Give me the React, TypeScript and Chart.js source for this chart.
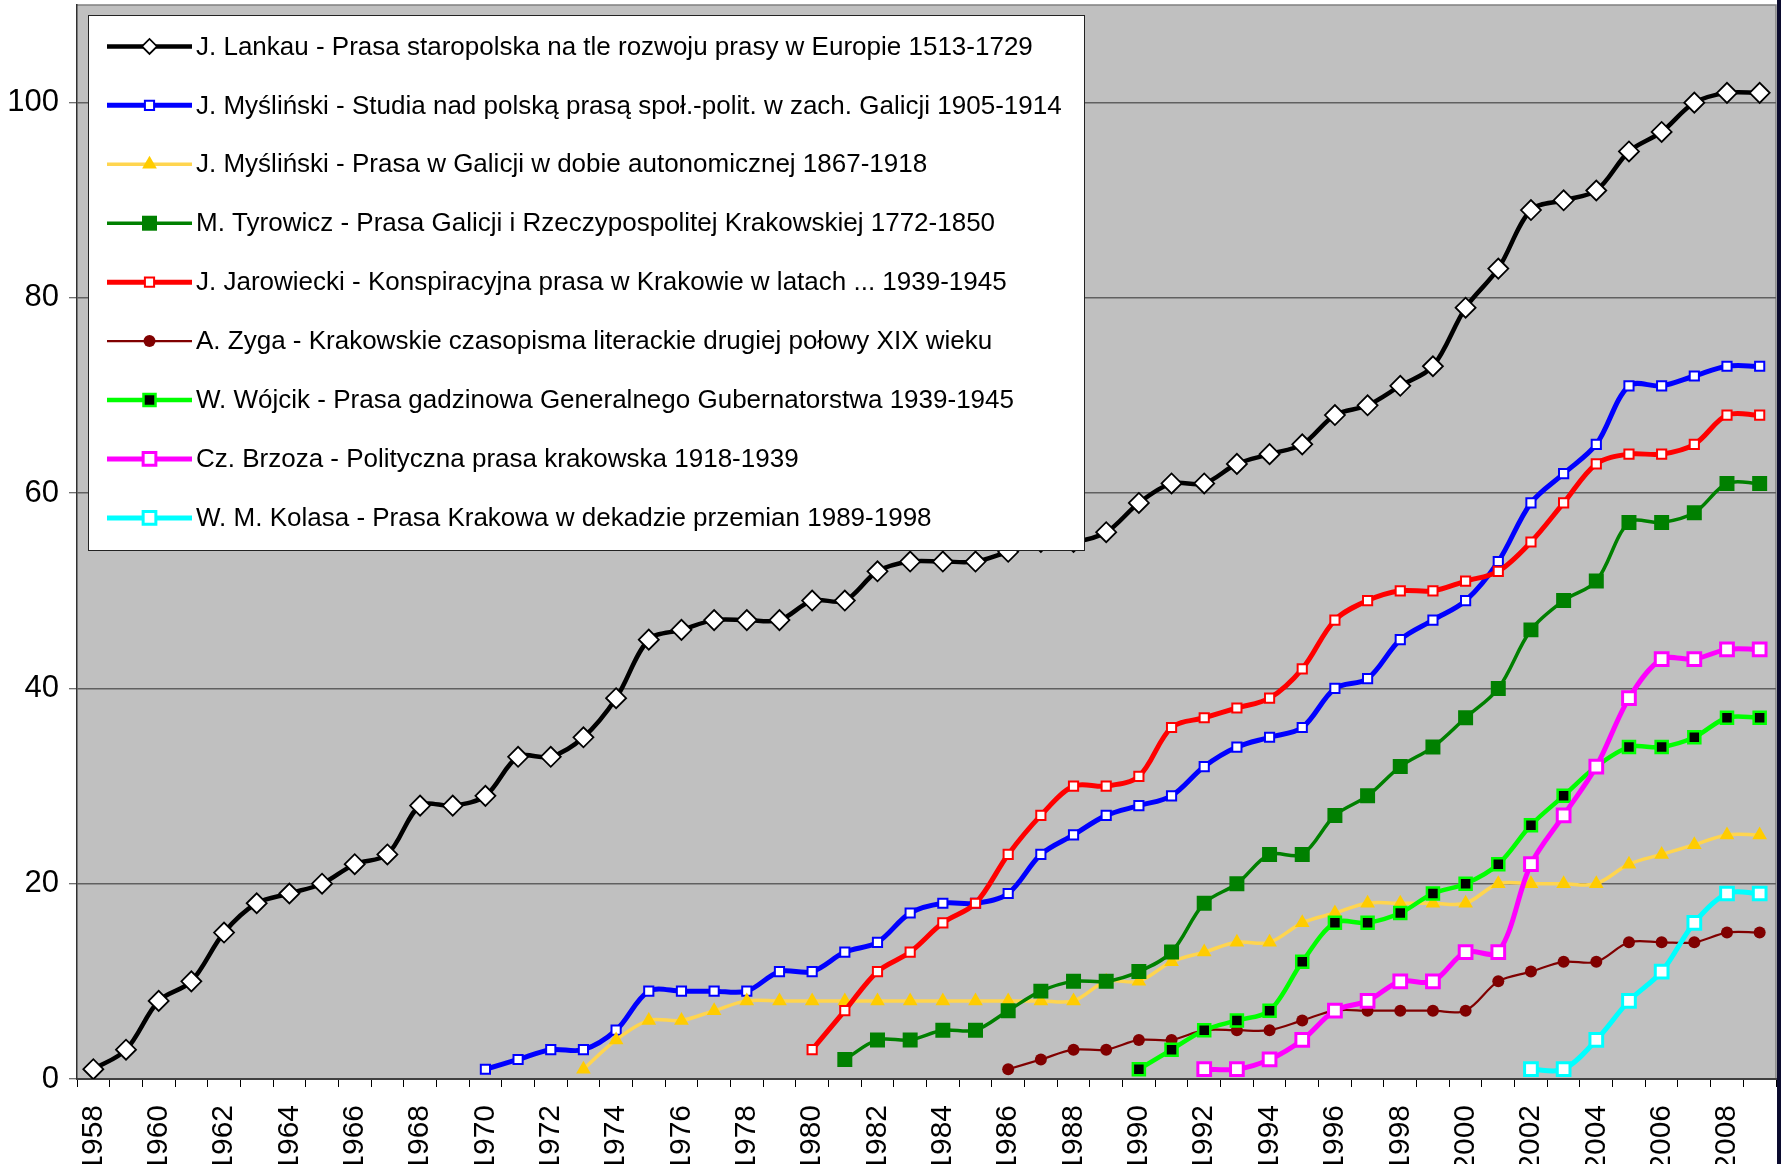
import React, { useEffect, useRef } from 'react';
import { Chart, registerables } from 'chart.js';

Chart.register(...registerables);

const FONT = "'Liberation Sans', Arial, Helvetica, sans-serif";

const years = [
  '1958', '1959', '1960', '1961', '1962', '1963', '1964', '1965', '1966', '1967',
  '1968', '1969', '1970', '1971', '1972', '1973', '1974', '1975', '1976', '1977',
  '1978', '1979', '1980', '1981', '1982', '1983', '1984', '1985', '1986', '1987',
  '1988', '1989', '1990', '1991', '1992', '1993', '1994', '1995', '1996', '1997',
  '1998', '1999', '2000', '2001', '2002', '2003', '2004', '2005', '2006', '2007',
  '2008', '2009',
];

const yTicks = [0, 20, 40, 60, 80, 100];

const N = null;

const lankau = [
  1, 3, 8, 10, 15, 18, 19, 20, 22, 23,
  28, 28, 29, 33, 33, 35, 39, 45, 46, 47,
  47, 47, 49, 49, 52, 53, 53, 53, 54, 55,
  55, 56, 59, 61, 61, 63, 64, 65, 68, 69,
  71, 73, 79, 83, 89, 90, 91, 95, 97, 100,
  101, 101,
];

const myslinskiStudia = [
  N, N, N, N, N, N, N, N, N, N,
  N, N, 1, 2, 3, 3, 5, 9, 9, 9,
  9, 11, 11, 13, 14, 17, 18, 18, 19, 23,
  25, 27, 28, 29, 32, 34, 35, 36, 40, 41,
  45, 47, 49, 53, 59, 62, 65, 71, 71, 72,
  73, 73,
];

const myslinskiGalicja = [
  N, N, N, N, N, N, N, N, N, N,
  N, N, N, N, N, 1, 4, 6, 6, 7,
  8, 8, 8, 8, 8, 8, 8, 8, 8, 8,
  8, 10, 10, 12, 13, 14, 14, 16, 17, 18,
  18, 18, 18, 20, 20, 20, 20, 22, 23, 24,
  25, 25,
];

const tyrowicz = [
  N, N, N, N, N, N, N, N, N, N,
  N, N, N, N, N, N, N, N, N, N,
  N, N, N, 2, 4, 4, 5, 5, 7, 9,
  10, 10, 11, 13, 18, 20, 23, 23, 27, 29,
  32, 34, 37, 40, 46, 49, 51, 57, 57, 58,
  61, 61,
];

const jarowiecki = [
  N, N, N, N, N, N, N, N, N, N,
  N, N, N, N, N, N, N, N, N, N,
  N, N, 3, 7, 11, 13, 16, 18, 23, 27,
  30, 30, 31, 36, 37, 38, 39, 42, 47, 49,
  50, 50, 51, 52, 55, 59, 63, 64, 64, 65,
  68, 68,
];

const zyga = [
  N, N, N, N, N, N, N, N, N, N,
  N, N, N, N, N, N, N, N, N, N,
  N, N, N, N, N, N, N, N, 1, 2,
  3, 3, 4, 4, 5, 5, 5, 6, 7, 7,
  7, 7, 7, 10, 11, 12, 12, 14, 14, 14,
  15, 15,
];

const wojcik = [
  N, N, N, N, N, N, N, N, N, N,
  N, N, N, N, N, N, N, N, N, N,
  N, N, N, N, N, N, N, N, N, N,
  N, N, 1, 3, 5, 6, 7, 12, 16, 16,
  17, 19, 20, 22, 26, 29, 32, 34, 34, 35,
  37, 37,
];

const brzoza = [
  N, N, N, N, N, N, N, N, N, N,
  N, N, N, N, N, N, N, N, N, N,
  N, N, N, N, N, N, N, N, N, N,
  N, N, N, N, 1, 1, 2, 4, 7, 8,
  10, 10, 13, 13, 22, 27, 32, 39, 43, 43,
  44, 44,
];

const kolasa = [
  N, N, N, N, N, N, N, N, N, N,
  N, N, N, N, N, N, N, N, N, N,
  N, N, N, N, N, N, N, N, N, N,
  N, N, N, N, N, N, N, N, N, N,
  N, N, N, N, 1, 1, 4, 8, 11, 16,
  19, 19,
];

const seriesLabels = [
  'J. Lankau - Prasa staropolska na tle rozwoju prasy w Europie 1513-1729',
  'J. Myśliński - Studia nad polską prasą społ.-polit. w zach. Galicji 1905-1914',
  'J. Myśliński - Prasa w Galicji w dobie autonomicznej 1867-1918',
  'M. Tyrowicz - Prasa Galicji i Rzeczypospolitej Krakowskiej 1772-1850',
  'J. Jarowiecki - Konspiracyjna prasa w Krakowie w latach ... 1939-1945',
  'A. Zyga - Krakowskie czasopisma literackie drugiej połowy XIX wieku',
  'W. Wójcik - Prasa gadzinowa Generalnego Gubernatorstwa 1939-1945',
  'Cz. Brzoza - Polityczna prasa krakowska 1918-1939',
  'W. M. Kolasa - Prasa Krakowa w dekadzie przemian 1989-1998',
];

type Style = {
  line: string;
  width: number;
  point: string;
  radius: number;
  legendRadius: number;
  fill: string;
  stroke: string;
  bw: number;
};

const styles: Style[] = [
  { line: '#000000', width: 4.5, point: 'rectRot', radius: 10, legendRadius: 7.5, fill: '#ffffff', stroke: '#000000', bw: 1.8 },
  { line: '#0000FF', width: 5, point: 'rect', radius: 6.5, legendRadius: 6.5, fill: '#ffffff', stroke: '#0000FF', bw: 2 },
  { line: '#FFD54F', width: 3.5, point: 'triangle', radius: 8.5, legendRadius: 8.5, fill: '#FFCC00', stroke: '#FFCC00', bw: 0 },
  { line: '#008000', width: 3.5, point: 'rect', radius: 10.6, legendRadius: 10.6, fill: '#008000', stroke: '#008000', bw: 0 },
  { line: '#FF0000', width: 5, point: 'rect', radius: 6.5, legendRadius: 6.5, fill: '#ffffff', stroke: '#FF0000', bw: 2 },
  { line: '#800000', width: 2.2, point: 'circle', radius: 6, legendRadius: 6, fill: '#800000', stroke: '#800000', bw: 0 },
  { line: '#00FF00', width: 4.5, point: 'rect', radius: 8.5, legendRadius: 8.5, fill: '#000000', stroke: '#00FF00', bw: 2.5 },
  { line: '#FF00FF', width: 5, point: 'rect', radius: 9, legendRadius: 9, fill: '#ffffff', stroke: '#FF00FF', bw: 3 },
  { line: '#00FFFF', width: 5, point: 'rect', radius: 9, legendRadius: 9, fill: '#ffffff', stroke: '#00FFFF', bw: 3 },
];

const seriesData = [
  lankau, myslinskiStudia, myslinskiGalicja, tyrowicz, jarowiecki,
  zyga, wojcik, brzoza, kolasa,
];

function drawMarker(
  ctx: CanvasRenderingContext2D, style: string, x: number, y: number,
  r: number, fill: string, stroke: string, bw: number,
) {
  ctx.save();
  ctx.beginPath();
  if (style === 'rectRot') {
    ctx.moveTo(x - r, y);
    ctx.lineTo(x, y - r);
    ctx.lineTo(x + r, y);
    ctx.lineTo(x, y + r);
    ctx.closePath();
  } else if (style === 'rect') {
    const s = r * Math.SQRT1_2;
    ctx.rect(x - s, y - s, 2 * s, 2 * s);
  } else if (style === 'triangle') {
    ctx.moveTo(x, y - r);
    ctx.lineTo(x + r * 0.8660254, y + r * 0.5);
    ctx.lineTo(x - r * 0.8660254, y + r * 0.5);
    ctx.closePath();
  } else {
    ctx.arc(x, y, r, 0, Math.PI * 2);
  }
  ctx.fillStyle = fill;
  ctx.fill();
  if (bw > 0) {
    ctx.lineWidth = bw;
    ctx.strokeStyle = stroke;
    ctx.stroke();
  }
  ctx.restore();
}

const backgroundPlugin = {
  id: 'plotBackground',
  beforeDraw(chart: any) {
    const { ctx, chartArea: a, width, height } = chart;
    ctx.save();
    ctx.fillStyle = '#ffffff';
    ctx.fillRect(0, 0, width, height);
    ctx.fillStyle = '#C0C0C0';
    ctx.fillRect(a.left, a.top, a.right - a.left, a.bottom - a.top);
    ctx.strokeStyle = '#808080';
    ctx.lineWidth = 1.5;
    ctx.beginPath();
    ctx.moveTo(a.left, a.top);
    ctx.lineTo(a.right, a.top);
    ctx.lineTo(a.right, a.bottom);
    ctx.stroke();
    ctx.restore();
  },
};

const legendPlugin = {
  id: 'boxLegend',
  afterDraw(chart: any) {
    const { ctx } = chart;
    const boxL = 88.5, boxT = 15.5, boxR = 1084.5, boxB = 550.5;
    ctx.save();
    ctx.fillStyle = '#ffffff';
    ctx.fillRect(boxL, boxT, boxR - boxL, boxB - boxT);
    ctx.strokeStyle = '#222222';
    ctx.lineWidth = 1;
    ctx.strokeRect(boxL, boxT, boxR - boxL, boxB - boxT);
    const rowTop = 46.4;
    const rowGap = 58.94;
    chart.data.datasets.forEach((ds: any, i: number) => {
      const st = styles[i];
      const cy = rowTop + i * rowGap;
      ctx.strokeStyle = st.line;
      ctx.lineWidth = st.width;
      ctx.beginPath();
      ctx.moveTo(107, cy);
      ctx.lineTo(192, cy);
      ctx.stroke();
      drawMarker(ctx, st.point, 149.5, cy, st.legendRadius, st.fill, st.stroke, st.bw);
      ctx.fillStyle = '#000000';
      ctx.font = `26px ${FONT}`;
      ctx.textAlign = 'left';
      ctx.textBaseline = 'middle';
      ctx.fillText(ds.label, 196, cy + 1);
    });
    // dark window edge at the right
    ctx.fillStyle = '#0b0b2e';
    ctx.fillRect(1777, 0, 4, chart.height);
    ctx.restore();
  },
};

export default function App() {
  const canvasRef = useRef<HTMLCanvasElement | null>(null);

  useEffect(() => {
    document.body.style.margin = '0';
    const canvas = canvasRef.current;
    if (!canvas) return;
    const datasets = seriesData.map((d, i) => {
      const st = styles[i];
      return {
        label: seriesLabels[i],
        data: d,
        borderColor: st.line,
        borderWidth: st.width,
        backgroundColor: st.fill,
        pointStyle: st.point,
        pointRadius: st.radius,
        pointBackgroundColor: st.fill,
        pointBorderColor: st.stroke,
        pointBorderWidth: st.bw,
        tension: 0.33,
        fill: false,
        spanGaps: false,
        order: 20 - i,
      };
    });

    const chart = new Chart(canvas, {
      type: 'line',
      data: { labels: years, datasets },
      options: {
        animation: false,
        responsive: true,
        maintainAspectRatio: false,
        events: [],
        layout: { autoPadding: false, padding: { top: 5, right: 5, left: 0, bottom: 0 } },
        plugins: {
          legend: { display: false },
          tooltip: { enabled: false },
        },
        scales: {
          x: {
            type: 'category',
            offset: true,
            afterFit: (scale: any) => {
              scale.height = 85;
              scale.paddingLeft = 0;
              scale.paddingRight = 0;
              scale.paddingTop = 0;
              scale.paddingBottom = 0;
            },
            grid: {
              offset: true,
              drawOnChartArea: false,
              drawTicks: true,
              tickLength: 8,
              tickColor: '#000000',
              tickWidth: 1,
            },
            border: { display: true, color: '#404040', width: 2 },
            ticks: {
              autoSkip: false,
              maxRotation: 90,
              minRotation: 90,
              padding: 18,
              color: '#000000',
              font: { family: FONT, size: 30 },
              callback: (_v: any, idx: number) => (idx % 2 === 0 ? years[idx] : ''),
            },
          },
          y: {
            min: 0,
            max: 110,
            afterFit: (scale: any) => {
              scale.width = 77;
              scale.paddingTop = 0;
              scale.paddingBottom = 0;
              scale.paddingLeft = 0;
              scale.paddingRight = 0;
            },
            afterBuildTicks: (scale: any) => {
              scale.ticks = yTicks.map((v) => ({ value: v }));
            },
            grid: {
              color: '#606060',
              lineWidth: 1.5,
              drawTicks: true,
              tickLength: 8,
              tickColor: '#404040',
              tickWidth: 1,
            },
            border: { display: true, color: '#303030', width: 1.5 },
            ticks: {
              padding: 10,
              color: '#000000',
              font: { family: FONT, size: 31 },
            },
          },
        },
      },
      plugins: [backgroundPlugin, legendPlugin],
    } as any);

    return () => chart.destroy();
  }, []);

  return (
    <div style={{ position: 'absolute', left: 0, top: 0, width: 1781, height: 1164 }}>
      <canvas ref={canvasRef} />
    </div>
  );
}
